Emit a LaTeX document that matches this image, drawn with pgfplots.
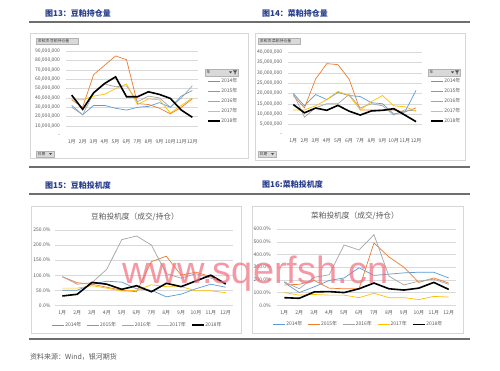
\documentclass[border=0pt]{standalone}
\usepackage{fontspec}
\setmainfont{Noto Sans CJK SC}
\newfontfamily\wmfont{Liberation Sans}
\usepackage{pgfplots}
\pgfplotsset{compat=1.18}
\definecolor{c14}{RGB}{91,155,213}
\definecolor{c15}{RGB}{237,125,49}
\definecolor{c16}{RGB}{165,165,165}
\definecolor{c17}{RGB}{255,192,0}
\definecolor{gridc}{RGB}{217,217,217}
\definecolor{labc}{RGB}{89,89,89}
\definecolor{titc}{RGB}{40,62,140}
\definecolor{sepc}{RGB}{110,110,110}
\definecolor{framec}{RGB}{215,215,215}
\definecolor{btnc}{RGB}{217,217,217}
\definecolor{wmc}{RGB}{240,110,125}
\pgfplotsset{
  base/.style={scale only axis, xmin=0.5, xmax=12.5, ymin=0,
    xtick={1,2,...,12},
    xticklabels={1月,2月,3月,4月,5月,6月,7月,8月,9月,10月,11月,12月},
    axis line style={draw=none}, major tick length=0pt,
    ymajorgrids, grid style={gridc, line width=0.4pt},
    tick label style={font=\fontsize{5}{6}\selectfont, inner sep=0pt, text=labc},
    legend image code/.code={\draw[##1] (0pt,0pt) -- (12pt,0pt);},
    legend style={draw=none, fill=none, inner sep=0pt,
      font=\fontsize{5}{6}\selectfont, text=labc,
      nodes={inner sep=0.5pt, text height=3.6pt, text depth=0.9pt}},
    legend cell align=left,
  },
  s14/.style={c14, line width=0.7pt},
  s15/.style={c15, line width=0.7pt},
  s16/.style={c16, line width=0.7pt},
  s17/.style={c17, line width=0.7pt},
  s18/.style={black, line width=1.6pt},
}
\begin{document}
\begin{tikzpicture}
\fill[white] (0pt,0pt) rectangle (500pt,370pt);
% separators
\draw[sepc, line width=1.1pt] (29pt,348pt) -- (470pt,348pt);
\draw[sepc, line width=1.1pt] (29pt,203pt) -- (470pt,203pt);
\draw[sepc, line width=1.1pt] (29pt,176pt) -- (470pt,176pt);
\draw[sepc, line width=1.1pt] (29pt,31pt) -- (470pt,31pt);
% frames
\draw[framec, line width=0.5pt] (30pt,212pt) rectangle (248pt,337pt);
\draw[framec, line width=0.5pt] (255pt,210pt) rectangle (465pt,337pt);
\draw[framec, line width=0.5pt] (31pt,37pt) rectangle (241pt,164pt);
\draw[framec, line width=0.5pt] (252pt,37pt) rectangle (463pt,164pt);
% titles
\node[anchor=west, inner sep=0pt, text=titc, font=\fontsize{8}{9}\selectfont\bfseries] at (45pt,357pt) {图13：豆粕持仓量};
\node[anchor=west, inner sep=0pt, text=titc, font=\fontsize{8}{9}\selectfont\bfseries] at (262pt,357pt) {图14：菜粕持仓量};
\node[anchor=west, inner sep=0pt, text=titc, font=\fontsize{8}{9}\selectfont\bfseries] at (45pt,185pt) {图15：豆粕投机度};
\node[anchor=west, inner sep=0pt, text=titc, font=\fontsize{8}{9}\selectfont\bfseries] at (262pt,186pt) {图16:菜粕投机度};
\node[anchor=west, inner sep=0pt, text=labc, font=\fontsize{7}{8}\selectfont] at (30pt,13pt) {资料来源：Wind，银河期货};
% pivot buttons chart 1
\draw[gray!60, fill=btnc, line width=0.3pt] (36pt,326pt) rectangle (78pt,332pt);
\node[anchor=west, inner sep=0pt, text=black!75, font=\fontsize{3.8}{4}\selectfont] at (37.5pt,329pt) {求和项:豆粕持仓量};
\draw[gray!60, fill=btnc, line width=0.3pt] (36pt,213pt) rectangle (54pt,219pt);
\node[anchor=west, inner sep=0pt, text=black!75, font=\fontsize{3.8}{4}\selectfont] at (37.5pt,216pt) {日期};
\fill[black!70] (49pt,217pt) -- (52pt,217pt) -- (50.5pt,215pt) -- cycle;
\draw[gray!60, fill=btnc, line width=0.3pt] (205pt,294pt) rectangle (238pt,301pt);
\node[anchor=west, inner sep=0pt, text=black!75, font=\fontsize{3.8}{4}\selectfont] at (206.5pt,297.5pt) {年};
\fill[black!70] (229pt,298.5pt) -- (232pt,298.5pt) -- (230.5pt,296.5pt) -- cycle;
\fill[black!70] (233pt,299.5pt) -- (237pt,299.5pt) -- (235.5pt,297.5pt) -- (235.5pt,295.5pt) -- (234.5pt,295.5pt) -- (234.5pt,297.5pt) -- cycle;
% pivot buttons chart 2
\draw[gray!60, fill=btnc, line width=0.3pt] (258pt,326pt) rectangle (300pt,332pt);
\node[anchor=west, inner sep=0pt, text=black!75, font=\fontsize{3.8}{4}\selectfont] at (259.5pt,329pt) {求和项:菜粕持仓量};
\draw[gray!60, fill=btnc, line width=0.3pt] (258pt,213pt) rectangle (276pt,219pt);
\node[anchor=west, inner sep=0pt, text=black!75, font=\fontsize{3.8}{4}\selectfont] at (259.5pt,216pt) {日期};
\fill[black!70] (271pt,217pt) -- (274pt,217pt) -- (272.5pt,215pt) -- cycle;
\draw[gray!60, fill=btnc, line width=0.3pt] (428pt,294pt) rectangle (460pt,301pt);
\node[anchor=west, inner sep=0pt, text=black!75, font=\fontsize{3.8}{4}\selectfont] at (429.5pt,297.5pt) {年};
\fill[black!70] (451pt,298.5pt) -- (454pt,298.5pt) -- (452.5pt,296.5pt) -- cycle;
\fill[black!70] (455pt,299.5pt) -- (459pt,299.5pt) -- (457.5pt,297.5pt) -- (457.5pt,295.5pt) -- (456.5pt,295.5pt) -- (456.5pt,297.5pt) -- cycle;
% chart titles 3/4
\node[text=labc, inner sep=0pt, font=\fontsize{7.7}{8}\selectfont] at (135pt,153.3pt) {豆粕投机度（成交/持仓）};
\node[text=labc, inner sep=0pt, font=\fontsize{7.7}{8}\selectfont] at (355pt,154pt) {菜粕投机度（成交/持仓）};

% ---------- Chart 1 ----------
\begin{axis}[base, at={(66.2pt,234.7pt)}, anchor=south west,
  width=131.6pt, height=84pt, ymax=90,
  ytick={10,20,...,90},
  yticklabels={{10,000,000},{20,000,000},{30,000,000},{40,000,000},{50,000,000},{60,000,000},{70,000,000},{80,000,000},{90,000,000}},
  extra y ticks={0}, extra y tick labels={-}, extra y tick style={grid=none},
  yticklabel style={xshift=-6pt}, xticklabel style={yshift=-4.2pt},
  legend style={at={(1.07,0.679)}, anchor=north west, row sep=4.5pt}]
\addplot[s14] coordinates {(1,32) (2,22) (3,32) (4,32) (5,29) (6,27) (7,30) (8,31) (9,35) (10,30) (11,42) (12,48)};
\addplot[s15] coordinates {(1,38) (2,30) (3,65) (4,75) (5,85) (6,81) (7,34) (8,33) (9,29) (10,23) (11,30) (12,39)};
\addplot[s16] coordinates {(1,30) (2,22) (3,45) (4,55) (5,52) (6,53) (7,36) (8,42) (9,40) (10,30) (11,40) (12,53)};
\addplot[s17] coordinates {(1,38) (2,38) (3,42) (4,44) (5,50) (6,55) (7,33) (8,39) (9,38) (10,24) (11,32) (12,40)};
\addplot[s18] coordinates {(1,43) (2,27.8) (3,45.5) (4,55.5) (5,62.6) (6,41.3) (7,41.3) (8,46.6) (9,43.8) (10,39.5) (11,27) (12,19.3)};
\legend{2014年,2015年,2016年,2017年,2018年}
\end{axis}

% ---------- Chart 2 ----------
\begin{axis}[base, at={(287.7pt,235.4pt)}, anchor=south west,
  width=133.9pt, height=82.3pt, ymax=40,
  ytick={5,10,...,40},
  yticklabels={{5,000,000},{10,000,000},{15,000,000},{20,000,000},{25,000,000},{30,000,000},{35,000,000},{40,000,000}},
  extra y ticks={0}, extra y tick labels={-}, extra y tick style={grid=none},
  yticklabel style={xshift=-5.4pt}, xticklabel style={yshift=-4.2pt},
  legend style={at={(1.063,0.685)}, anchor=north west, row sep=4.5pt}]
\addplot[s14] coordinates {(1,20) (2,14) (3,19.5) (4,17) (5,20.5) (6,19) (7,18.5) (8,15.5) (9,15) (10,10) (11,11) (12,21.5)};
\addplot[s15] coordinates {(1,19) (2,13) (3,27) (4,34.5) (5,34) (6,27) (7,12) (8,12) (9,12) (10,12) (11,11) (12,13)};
\addplot[s16] coordinates {(1,20) (2,8.5) (3,13) (4,15) (5,15) (6,19.5) (7,13) (8,15) (9,14) (10,9.5) (11,12) (12,11.5)};
\addplot[s17] coordinates {(1,12) (2,12) (3,14) (4,17) (5,21) (6,19) (7,12) (8,16) (9,19) (10,14) (11,13.5) (12,11.5)};
\addplot[s18] coordinates {(1,14.6) (2,10.6) (3,12.9) (4,11.8) (5,14.2) (6,11.4) (7,9.5) (8,11.5) (9,11.8) (10,12.6) (11,9.5) (12,6.3)};
\legend{2014年,2015年,2016年,2017年,2018年}
\end{axis}

% ---------- Chart 3 ----------
\begin{axis}[base, at={(54.9pt,64.7pt)}, anchor=south west,
  width=178.2pt, height=75.3pt, ymax=250,
  ytick={0,50,...,250},
  yticklabels={0.0\%,50.0\%,100.0\%,150.0\%,200.0\%,250.0\%},
  yticklabel style={xshift=-4.2pt}, xticklabel style={yshift=-4.8pt},
  legend columns=5,
  legend style={at={(0.461,-0.262)}, anchor=center,
    /tikz/every even column/.append style={column sep=5pt}}]
\addplot[s14] coordinates {(1,50) (2,50) (3,70) (4,80) (5,77) (6,55) (7,50) (8,28) (9,37) (10,55) (11,70) (12,60)};
\addplot[s15] coordinates {(1,95) (2,75) (3,70) (4,60) (5,50) (6,45) (7,145) (8,163) (9,100) (10,110) (11,95) (12,70)};
\addplot[s16] coordinates {(1,95) (2,70) (3,75) (4,120) (5,218) (6,230) (7,200) (8,105) (9,90) (10,105) (11,90) (12,75)};
\addplot[s17] coordinates {(1,57) (2,57) (3,65) (4,57) (5,47) (6,50) (7,68) (8,62) (9,62) (10,48) (11,48) (12,42)};
\addplot[s18] coordinates {(1,31) (2,36.5) (3,76) (4,70) (5,53) (6,65) (7,45) (8,73) (9,62) (10,81) (11,100) (12,71)};
\legend{2014年,2015年,2016年,2017年,2018年}
\end{axis}

% ---------- Chart 4 ----------
\begin{axis}[base, at={(276.8pt,64.7pt)}, anchor=south west,
  width=179.4pt, height=76.3pt, ymax=600,
  ytick={0,100,...,600},
  yticklabels={0.0\%,100.0\%,200.0\%,300.0\%,400.0\%,500.0\%,600.0\%},
  yticklabel style={xshift=-5.8pt}, xticklabel style={yshift=-4.8pt},
  legend columns=5,
  legend style={at={(0.4526,-0.249)}, anchor=center,
    /tikz/every even column/.append style={column sep=5pt}}]
\addplot[s14] coordinates {(1,180) (2,100) (3,145) (4,195) (5,215) (6,295) (7,235) (8,245) (9,255) (10,260) (11,260) (12,215)};
\addplot[s15] coordinates {(1,160) (2,165) (3,195) (4,135) (5,130) (6,130) (7,490) (8,380) (9,300) (10,180) (11,215) (12,175)};
\addplot[s16] coordinates {(1,185) (2,130) (3,220) (4,240) (5,475) (6,435) (7,555) (8,230) (9,160) (10,190) (11,205) (12,165)};
\addplot[s17] coordinates {(1,100) (2,80) (3,85) (4,80) (5,80) (6,60) (7,95) (8,60) (9,60) (10,45) (11,70) (12,65)};
\addplot[s18] coordinates {(1,60) (2,55) (3,105) (4,108) (5,100) (6,130) (7,175) (8,130) (9,120) (10,135) (11,180) (12,125)};
\legend{2014年,2015年,2016年,2017年,2018年}
\end{axis}

% watermark
\node[anchor=base west, inner sep=0pt, text=wmc, opacity=0.7, font=\wmfont\fontsize{38}{38}\selectfont] at (122pt,87pt) {www.sqerfsh.cn};
\end{tikzpicture}
\end{document}
